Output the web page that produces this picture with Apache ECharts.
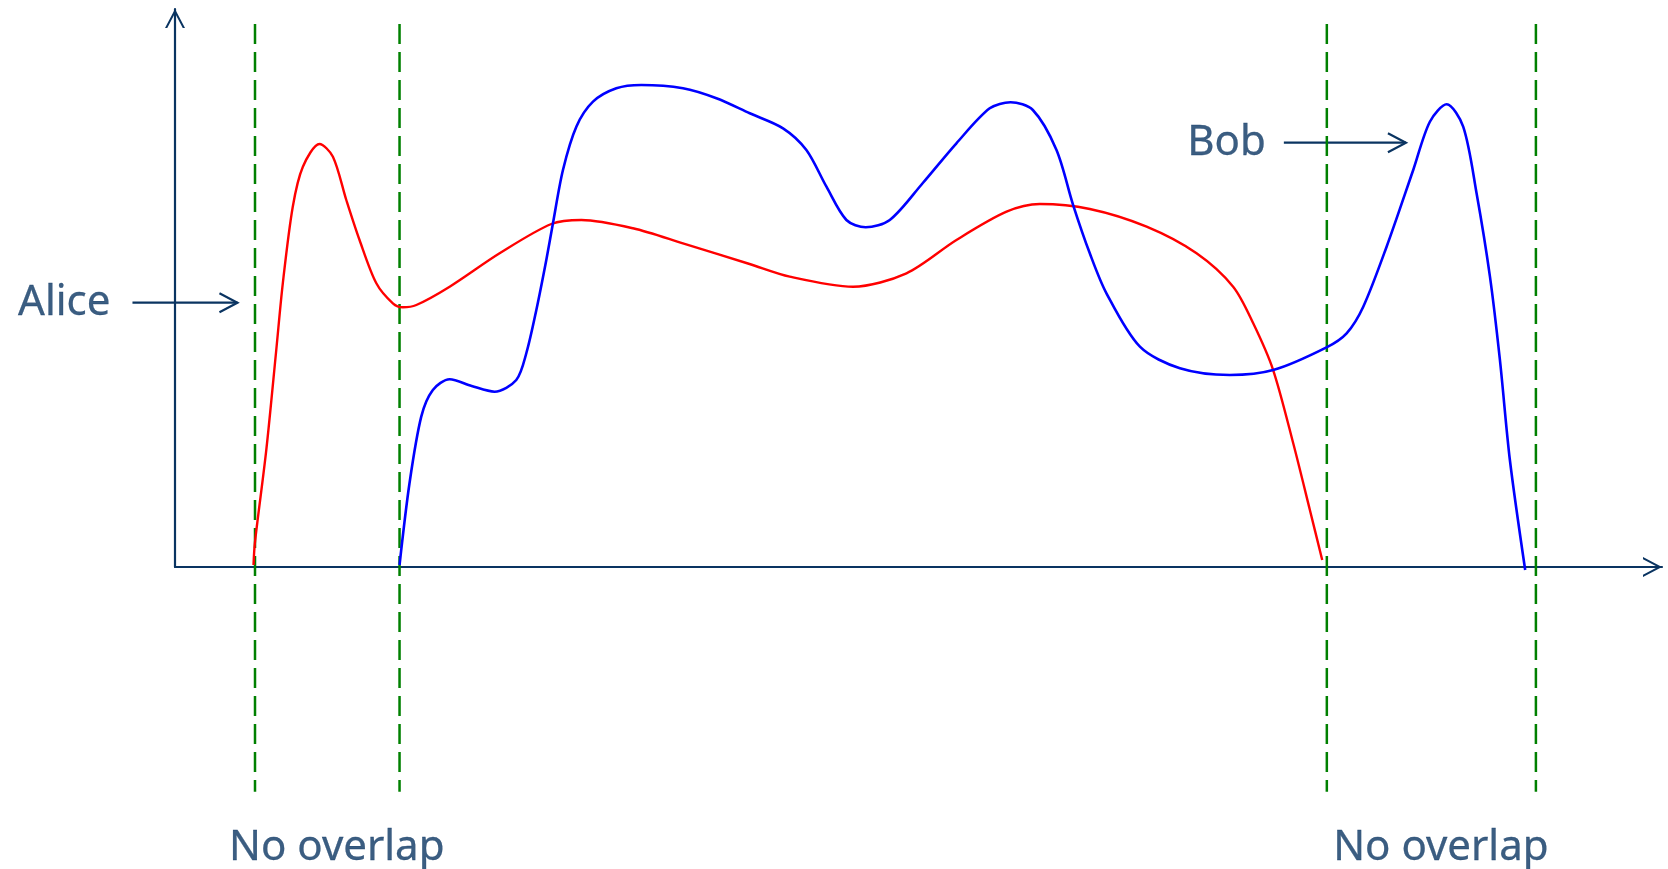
<!DOCTYPE html>
<html>
<head>
<meta charset="utf-8">
<script src="https://cdn.jsdelivr.net/npm/echarts@6/dist/echarts.min.js"></script>
<style>
  html, body { margin: 0; padding: 0; background: #ffffff; }
  #chart { width: 1668px; height: 869px; }
</style>
</head>
<body>
<div id="chart"></div>
<script>
// Two distributions drawn on a bare pair of axes (arbitrary units, 0..100).
const aliceData = [
  [5.28, 0.36], [5.37, 4.25], [6.14, 20.97], [6.81, 38.89], [7.25, 50.84],
  [7.92, 64.57], [8.60, 71.74], [9.72, 75.81], [10.62, 73.53], [11.52, 65.77],
  [12.41, 58.60], [13.54, 50.84], [14.65, 47.26], [15.32, 46.54], [16.23, 46.95],
  [18.47, 50.23], [21.83, 56.22], [25.31, 61.47], [27.33, 62.19], [30.80, 60.70],
  [34.16, 58.01], [38.64, 54.30], [41.34, 52.03], [45.60, 50.23], [49.19, 52.63],
  [52.55, 58.60], [55.92, 63.67], [58.16, 65.05], [61.52, 64.16], [65.34, 60.99],
  [68.70, 56.22], [71.16, 50.23], [72.51, 43.67], [73.85, 35.30], [75.20, 22.17],
  [76.32, 10.22], [77.15, 1.25]
];

const bobData = [
  [15.10, 0.36], [15.77, 15.00], [16.56, 26.94], [17.34, 31.72], [18.47, 33.64],
  [19.95, 32.44], [21.49, 31.42], [22.95, 33.51], [23.63, 38.35], [24.30, 46.06],
  [24.97, 55.02], [25.42, 61.65], [26.09, 71.15], [26.99, 78.91], [28.11, 83.39],
  [29.68, 85.79], [31.36, 86.38], [34.16, 85.79], [36.41, 84.00], [38.65, 81.31],
  [40.89, 78.62], [42.46, 74.73], [43.81, 68.15], [45.15, 62.19], [46.45, 60.88],
  [48.07, 62.19], [50.29, 68.82], [52.55, 75.93], [54.79, 82.20], [56.19, 83.28],
  [57.69, 81.90], [59.28, 74.73], [60.40, 64.87], [61.52, 56.22], [62.64, 49.05],
  [64.89, 39.48], [67.58, 35.61], [70.94, 34.41], [73.85, 35.30], [77.44, 39.37],
  [78.79, 41.88], [79.91, 46.65], [81.48, 57.40], [83.27, 71.15], [84.39, 79.80],
  [85.52, 82.92], [86.63, 78.91], [87.53, 66.97], [88.43, 52.03], [89.10, 37.10],
  [89.77, 19.18], [90.80, -0.54]
];

// Edges of the regions where only one of the two curves is present
const dividerX = [5.38, 15.10, 77.46, 91.52];
const dividerSpan = [97.3, -40.3];

// Pointer arrows naming each curve: [startX, endX, y]
const aliceArrow = [-2.86, 4.20, 47.37];
const bobArrow = [74.57, 82.78, 76.04];
const curveNames = ['Alice', 'Bob'];

// Captions under the dividers: [x, y]
const captionText = 'No overlap';
const captionPos = [[10.88, -50.4], [85.13, -50.4]];

const NAVY = '#0a3461';
const FONT = '"Noto Sans", "Open Sans", sans-serif';

// Open chevron head for the axis ends (filled outline of a thin V, pointing up)
const chevronUp = 'path://M0,19 L10,0 L20,19 L17.74,19 L10,4.3 L2.26,19 Z';

function textSeries(points, texts, labelOpts) {
  return {
    type: 'scatter',
    clip: false,
    silent: true,
    symbol: 'circle',
    symbolSize: 1,
    itemStyle: { color: 'rgba(0,0,0,0)' },
    data: points.map((p, i) => ({
      value: p,
      label: Object.assign({
        show: true,
        formatter: texts[i],
        fontSize: 42,
        fontFamily: FONT,
        color: NAVY,
        textBorderColor: NAVY,
        textBorderWidth: 0.3
      }, labelOpts[i])
    }))
  };
}

const series = [];

dividerX.forEach((x) => {
  series.push({
    type: 'line',
    clip: false,
    silent: true,
    symbol: 'none',
    lineStyle: { color: '#008000', width: 2.5, type: [20, 8] },
    data: [[x, dividerSpan[0]], [x, dividerSpan[1]]]
  });
});

series.push({
  type: 'line',
  name: curveNames[0],
  clip: false,
  silent: true,
  symbol: 'none',
  smooth: 0.3,
  lineStyle: { color: '#ff0000', width: 2.4 },
  data: aliceData
});

series.push({
  type: 'line',
  name: curveNames[1],
  clip: false,
  silent: true,
  symbol: 'none',
  smooth: 0.3,
  lineStyle: { color: '#0000ff', width: 2.6 },
  data: bobData
});

// Horizontal pointer arrows with an open chevron head
series.push({
  type: 'custom',
  clip: false,
  silent: true,
  data: [aliceArrow, bobArrow],
  renderItem: function (params, api) {
    const y = api.value(2);
    const p1 = api.coord([api.value(0), y]);
    const p2 = api.coord([api.value(1), y]);
    const stroke = { stroke: NAVY, lineWidth: 2.2, fill: null };
    return {
      type: 'group',
      children: [
        { type: 'line', shape: { x1: p1[0], y1: p1[1], x2: p2[0], y2: p2[1] }, style: stroke },
        {
          type: 'polyline',
          shape: { points: [[p2[0] - 18, p2[1] - 9.5], [p2[0], p2[1]], [p2[0] - 18, p2[1] + 9.5]] },
          style: stroke
        }
      ]
    };
  }
});

// Curve names placed just left of their arrows
series.push(textSeries(
  [[aliceArrow[0], aliceArrow[2]], [bobArrow[0], bobArrow[2]]],
  curveNames,
  [{ position: 'left', distance: 21.5 }, { position: 'left', distance: 17.5 }]
));

// Captions below the dividers
series.push(textSeries(
  captionPos,
  [captionText, captionText],
  [{ position: 'inside' }, { position: 'inside' }]
));

const axisLineBase = {
  show: true,
  symbol: ['none', chevronUp],
  symbolSize: [20, 19],
  symbolOffset: [0, -9.5],
  lineStyle: { color: NAVY, width: 2.2 }
};

const chart = echarts.init(document.getElementById('chart'), null, { renderer: 'canvas' });
chart.setOption({
  animation: false,
  backgroundColor: '#ffffff',
  grid: { left: 175, right: 6, top: 9, bottom: 302, containLabel: false },
  xAxis: {
    type: 'value', min: 0, max: 100,
    axisLine: axisLineBase,
    axisTick: { show: false }, axisLabel: { show: false }, splitLine: { show: false }
  },
  yAxis: {
    type: 'value', min: 0, max: 100,
    axisLine: axisLineBase,
    axisTick: { show: false }, axisLabel: { show: false }, splitLine: { show: false }
  },
  tooltip: { show: false },
  series: series
});
</script>
</body>
</html>
